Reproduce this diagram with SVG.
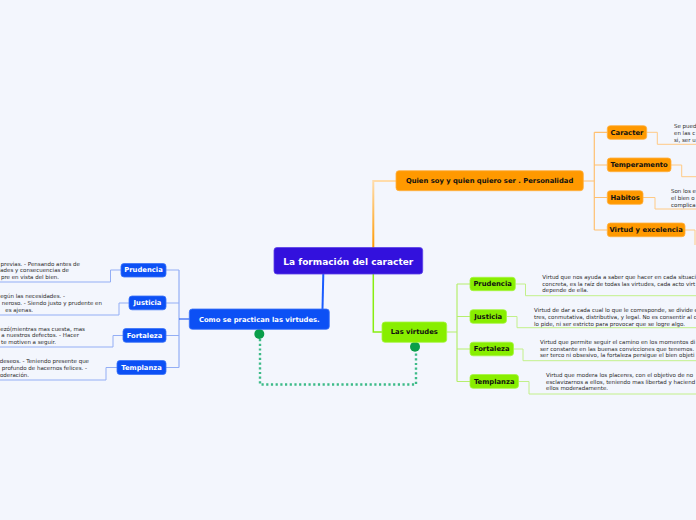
<svg xmlns="http://www.w3.org/2000/svg" width="696" height="520" viewBox="0 0 696 520">
<defs>
<linearGradient id="og" x1="0" y1="1" x2="0" y2="0">
<stop offset="0" stop-color="#ff9900"/>
<stop offset="1" stop-color="#ffdcaa"/>
</linearGradient>
<style>
.lbl{font-family:"DejaVu Sans","Verdana",sans-serif;font-weight:bold;font-size:6.8px;dominant-baseline:central}
.body{font-family:"DejaVu Sans","Verdana",sans-serif;font-size:5.5px;fill:#2a2a2a;dominant-baseline:central}
.cen{font-family:"DejaVu Sans","Verdana",sans-serif;font-weight:bold;font-size:9px;fill:#fff;dominant-baseline:central}
.on{fill:#ff9900;stroke:#ffb040;stroke-width:0.8}
.gn{fill:#88ee00;stroke:#a6f540;stroke-width:0.8}
.bn{fill:#0c50f5;stroke:#3a72f7;stroke-width:0.8}
.ol{fill:none;stroke:#ffca85;stroke-width:1}
.gl{fill:none;stroke:#c2f08a;stroke-width:1}
.bl{fill:none;stroke:#93aef5;stroke-width:1}
</style>
</defs>
<rect width="696" height="520" fill="#f3f6fd"/>
<g id="connectors">
<path d="M373.3 248 V181 H396" fill="none" stroke="url(#og)" stroke-width="2"/>
<path d="M323.3 274 L322.5 309" fill="none" stroke="#1a5cff" stroke-width="2"/>
<path d="M373.3 274 V332 H382" fill="none" stroke="#88ee11" stroke-width="1.5"/>
<path d="M583 181 H594.3 M594.3 132.3 V230 M594.3 132.3 H607 M594.3 165 H607 M594.3 197.5 H607 M594.3 230 H607" fill="none" stroke="#ffc070" stroke-width="1.2"/>
<path class="ol" d="M646.7 132.3 H657.3 V144.3 H696"/>
<path class="ol" d="M671 165 H681.7 V176.7 H696"/>
<path class="ol" d="M643 197.5 H655 V209 H696"/>
<path class="ol" d="M685 230 H695 V245"/>
<path d="M446.7 332 H457 M457 284 V381.5 M457 284 H470 M457 316.5 H470 M457 349 H470 M457 381.5 H470" fill="none" stroke="#b6ee6e" stroke-width="1.2"/>
<path class="gl" d="M515.3 284 H525.5 V295.7 H696"/>
<path class="gl" d="M506.5 316.5 H517 V327.7 H696"/>
<path class="gl" d="M513.5 349 H523 V360.7 H696"/>
<path class="gl" d="M518.5 381.5 H529 V394 H696"/>
<path d="M179 270 V367.5 M179 270 H166 M179 303 H166 M179 335.5 H166 M179 367.5 H166" fill="none" stroke="#93aef5" stroke-width="1.2"/>
<path d="M189.3 319 H179" fill="none" stroke="#2a62f5" stroke-width="1.2"/>
<path class="bl" d="M121 270 H110.5 V282 H0"/>
<path class="bl" d="M129 303 H119 V315 H0"/>
<path class="bl" d="M123 335.5 H113 V347 H0"/>
<path class="bl" d="M117 367.5 H106 V380 H0"/>
<path d="M260 339 V384.5 H416 V352" fill="none" stroke="#3dbb88" stroke-width="2.4" stroke-dasharray="2.2 2.5"/>
<circle cx="259.3" cy="334" r="5" fill="#0a9e4a"/>
<circle cx="415" cy="346.7" r="5" fill="#0a9e4a"/>
</g>
<g id="central">
<rect x="274" y="247.5" width="148.7" height="26.5" rx="3" fill="#3311dd" stroke="#5a40e6" stroke-width="0.8"/>
<text class="cen" x="348.3" y="261.5" text-anchor="middle">La formación del caracter</text>
</g>
<g id="personalidad">
<rect class="on" x="396" y="170.7" width="187.3" height="20" rx="3"/>
<text class="lbl" x="489.6" y="181.2" text-anchor="middle" fill="#111">Quien soy y quien quiero ser . Personalidad</text>
</g>
<g id="caracter">
<rect class="on" x="607.3" y="125.7" width="39.4" height="13.6" rx="3"/>
<text class="lbl" x="627" y="132.5" text-anchor="middle" fill="#111">Caracter</text>
<text class="body"><tspan x="674" y="126">Se pued</tspan><tspan x="674" y="133">en las c</tspan><tspan x="674" y="140">si, ser u</tspan></text>
</g>
<g id="temperamento">
<rect class="on" x="607.3" y="158" width="63.7" height="13.7" rx="3"/>
<text class="lbl" x="639.1" y="164.9" text-anchor="middle" fill="#111">Temperamento</text>
</g>
<g id="habitos">
<rect class="on" x="607.3" y="190.7" width="35.7" height="13.6" rx="3"/>
<text class="lbl" x="625.1" y="197.5" text-anchor="middle" fill="#111">Habitos</text>
<text class="body"><tspan x="671" y="191">Son los e</tspan><tspan x="671" y="198">el bien o</tspan><tspan x="671" y="204.5">complica</tspan></text>
</g>
<g id="virtud">
<rect class="on" x="607.3" y="223" width="77.7" height="13.7" rx="3"/>
<text class="lbl" x="646.1" y="229.9" text-anchor="middle" fill="#111">Virtud y excelencia</text>
</g>
<g id="practican">
<rect class="bn" x="189.3" y="309" width="140" height="20.3" rx="3"/>
<text class="lbl" x="259.3" y="319.6" text-anchor="middle" fill="#fff">Como se practican las virtudes.</text>
</g>
<g id="virtudes">
<rect class="gn" x="382" y="322" width="64.7" height="20.3" rx="3"/>
<text class="lbl" x="414.3" y="332.4" text-anchor="middle" fill="#111">Las virtudes</text>
</g>
<g id="g-prudencia">
<rect class="gn" x="470" y="277.3" width="45.3" height="13.4" rx="3"/>
<text class="lbl" x="492.6" y="284.2" text-anchor="middle" fill="#111">Prudencia</text>
<text class="body"><tspan x="542.3" y="277">Virtud que nos ayuda a saber que hacer en cada situaci</tspan><tspan x="542.3" y="283.5">concreta, es la raíz de todas las virtudes, cada acto virt</tspan><tspan x="542.3" y="290">depende de ella.</tspan></text>
</g>
<g id="g-justicia">
<rect class="gn" x="470" y="309.7" width="36.5" height="13.6" rx="3"/>
<text class="lbl" x="488.2" y="316.6" text-anchor="middle" fill="#111">Justicia</text>
<text class="body"><tspan x="534" y="309.5">Virtud de dar a cada cual lo que le corresponde, se divide e</tspan><tspan x="534" y="316.7">tres, conmutativa, distributiva, y legal. No es consentir al c</tspan><tspan x="534" y="323.5">lo pide, ni ser estricto para provocar que se logre algo.</tspan></text>
</g>
<g id="g-fortaleza">
<rect class="gn" x="470" y="342.2" width="43.5" height="13.6" rx="3"/>
<text class="lbl" x="491.7" y="349.1" text-anchor="middle" fill="#111">Fortaleza</text>
<text class="body"><tspan x="540" y="341.5">Virtud que permite seguir el camino en los momentos di</tspan><tspan x="540" y="348.5">ser constante en las buenas convicciones que tenemos.</tspan><tspan x="540" y="355.3">ser terco ni obsesivo, la fortaleza persigue el bien objeti</tspan></text>
</g>
<g id="g-templanza">
<rect class="gn" x="470" y="374.5" width="48.5" height="13.8" rx="3"/>
<text class="lbl" x="494.2" y="381.5" text-anchor="middle" fill="#111">Templanza</text>
<text class="body"><tspan x="546" y="375">Virtud que modera los placeres, con el objetivo de no</tspan><tspan x="546" y="381.7">esclavizarnos a ellos, teniendo mas libertad y haciend</tspan><tspan x="546" y="388">ellos moderadamente.</tspan></text>
</g>
<g id="b-prudencia">
<rect class="bn" x="121" y="263.5" width="45" height="13.5" rx="3"/>
<text class="lbl" x="143.5" y="270.3" text-anchor="middle" fill="#fff">Prudencia</text>
<text class="body" text-anchor="end"><tspan x="80" y="263.5">previas. - Pensando antes de</tspan><tspan x="69" y="270">dades y consecuencias de</tspan><tspan x="59" y="277.3">pre en vista del bien.</tspan></text>
</g>
<g id="b-justicia">
<rect class="bn" x="129" y="296" width="37" height="13.8" rx="3"/>
<text class="lbl" x="147.5" y="303" text-anchor="middle" fill="#fff">Justicia</text>
<text class="body" text-anchor="end"><tspan x="65" y="296">egún las necesidades. -</tspan><tspan x="102" y="303">neroso. - Siendo justo y prudente en</tspan><tspan x="33" y="309.5">es ajenas.</tspan></text>
</g>
<g id="b-fortaleza">
<rect class="bn" x="123" y="328.5" width="43" height="13.8" rx="3"/>
<text class="lbl" x="144.5" y="335.5" text-anchor="middle" fill="#fff">Fortaleza</text>
<text class="body" text-anchor="end"><tspan x="85" y="329">ezó(mientras mas cuesta, mas</tspan><tspan x="79" y="335.3">a nuestros defectos. - Hacer</tspan><tspan x="56" y="342">te motiven a seguir.</tspan></text>
</g>
<g id="b-templanza">
<rect class="bn" x="117" y="360.5" width="49" height="14" rx="3"/>
<text class="lbl" x="141.5" y="367.6" text-anchor="middle" fill="#fff">Templanza</text>
<text class="body" text-anchor="end"><tspan x="89" y="361">deseos. - Teniendo presente que</tspan><tspan x="87" y="368">profundo de hacernos felices. -</tspan><tspan x="29" y="374.5">oderación.</tspan></text>
</g>
</svg>
